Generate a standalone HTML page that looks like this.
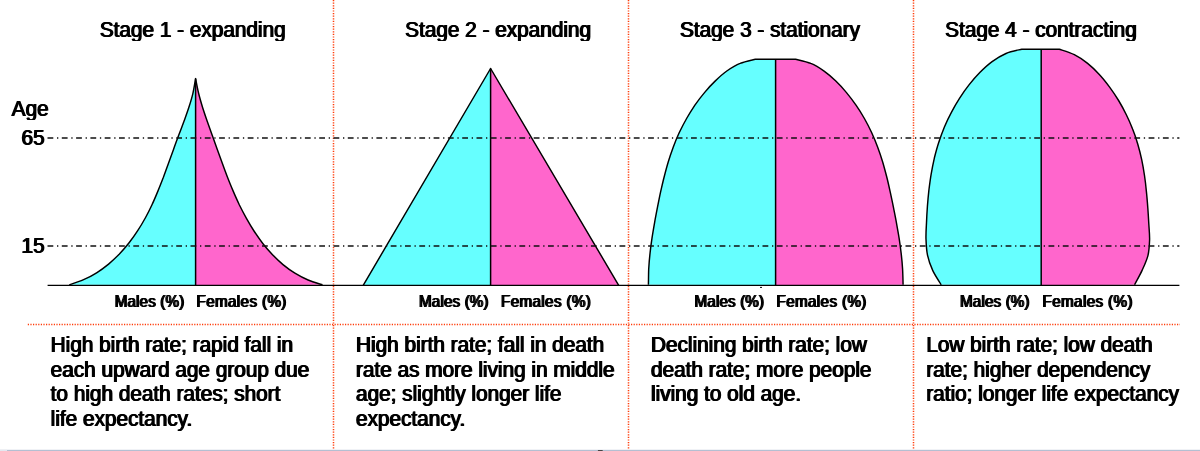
<!DOCTYPE html>
<html lang="en">
<head>
<meta charset="utf-8">
<title>Population pyramids - stages of demographic transition</title>
<style>
html,body{margin:0;padding:0;background:#fff;}
body{width:1200px;height:451px;overflow:hidden;position:relative;font-family:"Liberation Sans",Arial,Helvetica,sans-serif;color:#000;}
svg{display:block;position:absolute;left:0;top:0;}
div{position:absolute;white-space:nowrap;margin:0;padding:0;transform:scaleY(1.08);transform-origin:0 0;text-shadow:-.65px 0 0 #000,.65px 0 0 #000;}
.t{font-size:20.78px;line-height:24px;}
.b{font-size:20.78px;line-height:22.685px;}
.s{font-size:15.2px;line-height:18px;transform:scaleY(1.1);letter-spacing:.15px;text-shadow:-.75px 0 0 #000,.75px 0 0 #000;}
.s.w{letter-spacing:.38px;}
.m{fill:#66ffff;}
.f{fill:#ff66cc;}
.o{fill:none;stroke:#000;stroke-width:1.45;stroke-linejoin:round;}
.c{stroke:#000;stroke-width:1.5;}
.bl{stroke:#000;stroke-width:1.35;}
.d{stroke:#111;fill:none;}
.d1{stroke-width:1.4;stroke-dasharray:5.8 3.7 1.3 3.5;}
.d2{stroke-width:1.65;stroke-dasharray:5.8 3.7 1.3 3.5;}
.r{stroke:#ff3c0a;stroke-width:1.5;stroke-dasharray:1.2 1.4;fill:none;}
</style>
</head>
<body>
<svg width="1200" height="451" viewBox="0 0 1200 451">
<rect width="1200" height="451" fill="#fff"/>
<rect x="0" y="449.8" width="1200" height="1.2" fill="#b4bfd2"/><rect x="0" y="449.8" width="7" height="1.2" fill="#e4e8f0"/><rect x="597.8" y="450" width="5" height="1" rx=".5" fill="#444"/>
<g class="r">
<line x1="333.5" y1="0" x2="333.5" y2="449"/>
<line x1="628.5" y1="0" x2="628.5" y2="449"/>
<line x1="913.5" y1="0" x2="913.5" y2="449"/>
<line x1="27.8" y1="324.6" x2="1180" y2="324.6"/>
</g>
<path class="m" d="M69.3,284.8 C71.7,284.0 79.0,281.7 83.6,279.7 C88.1,277.7 92.5,275.4 96.6,272.8 C100.8,270.2 104.8,267.2 108.6,264.1 C112.3,261.0 115.9,257.6 119.4,254.1 C122.8,250.5 126.0,246.7 129.1,242.8 C132.1,239.0 135.0,234.9 137.7,230.7 C140.4,226.6 142.9,222.3 145.3,218.0 C147.7,213.6 149.9,209.2 152.0,204.7 C154.1,200.3 156.0,195.7 157.9,191.1 C159.8,186.6 161.6,181.9 163.4,177.3 C165.1,172.6 166.8,168.0 168.5,163.3 C170.2,158.6 171.9,153.9 173.6,149.3 C175.2,144.6 177.0,139.9 178.7,135.3 C180.4,130.7 182.2,126.1 183.9,121.5 C185.6,116.8 187.3,112.2 188.8,107.5 C190.3,102.9 191.8,98.2 192.9,93.3 C194.0,88.5 195.1,81.1 195.6,78.6 L195.6,78.6 L195.6,285.3 Z"/>
<path class="f" d="M322.5,284.8 C320.1,284.0 312.7,282.0 308.1,280.0 C303.5,278.1 299.1,275.8 294.9,273.2 C290.7,270.6 286.8,267.7 283.0,264.6 C279.2,261.4 275.7,258.0 272.3,254.5 C268.9,250.9 265.6,247.1 262.6,243.2 C259.5,239.3 256.7,235.1 254.0,231.0 C251.2,226.8 248.7,222.5 246.3,218.2 C243.9,213.8 241.6,209.4 239.4,205.0 C237.3,200.5 235.2,196.0 233.3,191.4 C231.3,186.8 229.5,182.2 227.6,177.6 C225.8,173.0 224.1,168.3 222.4,163.6 C220.7,159.0 219.0,154.3 217.3,149.6 C215.6,144.9 214.0,140.2 212.3,135.6 C210.6,130.9 208.9,126.2 207.3,121.6 C205.7,116.9 204.1,112.2 202.6,107.5 C201.2,102.8 199.8,98.1 198.6,93.2 C197.4,88.4 196.1,81.0 195.6,78.6 L195.6,78.6 L195.6,285.3 Z"/>
<path class="o" d="M69.3,284.8 C71.7,284.0 79.0,281.7 83.6,279.7 C88.1,277.7 92.5,275.4 96.6,272.8 C100.8,270.2 104.8,267.2 108.6,264.1 C112.3,261.0 115.9,257.6 119.4,254.1 C122.8,250.5 126.0,246.7 129.1,242.8 C132.1,239.0 135.0,234.9 137.7,230.7 C140.4,226.6 142.9,222.3 145.3,218.0 C147.7,213.6 149.9,209.2 152.0,204.7 C154.1,200.3 156.0,195.7 157.9,191.1 C159.8,186.6 161.6,181.9 163.4,177.3 C165.1,172.6 166.8,168.0 168.5,163.3 C170.2,158.6 171.9,153.9 173.6,149.3 C175.2,144.6 177.0,139.9 178.7,135.3 C180.4,130.7 182.2,126.1 183.9,121.5 C185.6,116.8 187.3,112.2 188.8,107.5 C190.3,102.9 191.8,98.2 192.9,93.3 C194.0,88.5 195.1,81.1 195.6,78.6 L195.6,78.6 L195.6,78.6 C196.1,81.0 197.4,88.4 198.6,93.2 C199.8,98.1 201.2,102.8 202.6,107.5 C204.1,112.2 205.7,116.9 207.3,121.6 C208.9,126.2 210.6,130.9 212.3,135.6 C214.0,140.2 215.6,144.9 217.3,149.6 C219.0,154.3 220.7,159.0 222.4,163.6 C224.1,168.3 225.8,173.0 227.6,177.6 C229.5,182.2 231.3,186.8 233.3,191.4 C235.2,196.0 237.3,200.5 239.4,205.0 C241.6,209.4 243.9,213.8 246.3,218.2 C248.7,222.5 251.2,226.8 254.0,231.0 C256.7,235.1 259.5,239.3 262.6,243.2 C265.6,247.1 268.9,250.9 272.3,254.5 C275.7,258.0 279.2,261.4 283.0,264.6 C286.8,267.7 290.7,270.6 294.9,273.2 C299.1,275.8 303.5,278.1 308.1,280.0 C312.7,282.0 320.1,284.0 322.5,284.8"/>
<line class="c" x1="195.6" y1="78.6" x2="195.6" y2="285.3"/>
<path class="m" d="M363.2,285.3 L490.6,68.5 L490.6,285.3 Z"/>
<path class="f" d="M618.7,285.3 L490.6,68.5 L490.6,285.3 Z"/>
<path class="o" d="M363.2,285.3 L490.6,68.5 L618.7,285.3"/>
<line class="c" x1="490.6" y1="68.5" x2="490.6" y2="285.3"/>
<path class="m" d="M648.4,284.8 C648.5,282.2 648.5,274.4 648.7,269.2 C649.0,264.0 649.4,258.8 650.0,253.6 C650.5,248.4 651.2,243.2 652.0,238.1 C652.8,232.9 653.7,227.7 654.6,222.6 C655.5,217.4 656.5,212.3 657.5,207.2 C658.5,202.0 659.5,196.9 660.6,191.8 C661.8,186.7 662.9,181.7 664.2,176.7 C665.5,171.6 666.8,166.6 668.3,161.7 C669.8,156.7 671.5,151.8 673.3,146.9 C675.1,142.1 677.1,137.2 679.3,132.5 C681.6,127.8 684.0,123.1 686.6,118.5 C689.2,113.9 692.0,109.5 694.9,105.1 C697.9,100.8 701.1,96.6 704.5,92.6 C707.8,88.6 711.3,84.7 715.1,81.1 C718.8,77.5 722.6,74.0 726.8,71.0 C731.0,68.1 735.3,65.3 740.1,63.4 C744.8,61.4 752.8,59.9 755.3,59.2 L775.6,59.2 L775.6,285.3 Z"/>
<path class="f" d="M903.1,284.8 C903.0,282.2 902.9,274.4 902.6,269.2 C902.3,264.0 901.8,258.8 901.2,253.6 C900.6,248.4 899.9,243.3 899.1,238.1 C898.3,232.9 897.3,227.8 896.4,222.6 C895.5,217.5 894.4,212.3 893.4,207.2 C892.4,202.1 891.3,197.0 890.2,191.9 C889.1,186.8 888.0,181.7 886.7,176.7 C885.4,171.7 884.1,166.7 882.6,161.7 C881.1,156.7 879.4,151.8 877.6,147.0 C875.8,142.1 873.8,137.3 871.6,132.5 C869.4,127.8 867.0,123.1 864.4,118.5 C861.8,114.0 859.0,109.5 856.0,105.2 C853.0,100.8 849.8,96.6 846.5,92.6 C843.1,88.6 839.6,84.7 835.8,81.1 C832.1,77.5 828.3,74.0 824.1,71.1 C819.9,68.1 815.6,65.3 810.8,63.4 C806.1,61.4 798.1,59.9 795.6,59.2 L775.6,59.2 L775.6,285.3 Z"/>
<path class="o" d="M648.4,284.8 C648.5,282.2 648.5,274.4 648.7,269.2 C649.0,264.0 649.4,258.8 650.0,253.6 C650.5,248.4 651.2,243.2 652.0,238.1 C652.8,232.9 653.7,227.7 654.6,222.6 C655.5,217.4 656.5,212.3 657.5,207.2 C658.5,202.0 659.5,196.9 660.6,191.8 C661.8,186.7 662.9,181.7 664.2,176.7 C665.5,171.6 666.8,166.6 668.3,161.7 C669.8,156.7 671.5,151.8 673.3,146.9 C675.1,142.1 677.1,137.2 679.3,132.5 C681.6,127.8 684.0,123.1 686.6,118.5 C689.2,113.9 692.0,109.5 694.9,105.1 C697.9,100.8 701.1,96.6 704.5,92.6 C707.8,88.6 711.3,84.7 715.1,81.1 C718.8,77.5 722.6,74.0 726.8,71.0 C731.0,68.1 735.3,65.3 740.1,63.4 C744.8,61.4 752.8,59.9 755.3,59.2 L775.6,59.2 L795.6,59.2 C798.1,59.9 806.1,61.4 810.8,63.4 C815.6,65.3 819.9,68.1 824.1,71.1 C828.3,74.0 832.1,77.5 835.8,81.1 C839.6,84.7 843.1,88.6 846.5,92.6 C849.8,96.6 853.0,100.8 856.0,105.2 C859.0,109.5 861.8,114.0 864.4,118.5 C867.0,123.1 869.4,127.8 871.6,132.5 C873.8,137.3 875.8,142.1 877.6,147.0 C879.4,151.8 881.1,156.7 882.6,161.7 C884.1,166.7 885.4,171.7 886.7,176.7 C888.0,181.7 889.1,186.8 890.2,191.9 C891.3,197.0 892.4,202.1 893.4,207.2 C894.4,212.3 895.5,217.5 896.4,222.6 C897.3,227.8 898.3,232.9 899.1,238.1 C899.9,243.3 900.6,248.4 901.2,253.6 C901.8,258.8 902.3,264.0 902.6,269.2 C902.9,274.4 903.0,282.2 903.1,284.8"/>
<line class="c" x1="775.6" y1="59.2" x2="775.6" y2="285.3"/>
<path class="m" d="M941.2,284.8 C939.8,282.4 935.1,275.5 932.8,270.6 C930.5,265.6 928.6,260.4 927.5,255.1 C926.4,249.9 926.2,244.5 926.0,239.2 C925.8,233.8 926.2,228.3 926.5,222.9 C926.7,217.5 927.0,212.0 927.4,206.5 C927.8,201.1 928.3,195.6 928.9,190.1 C929.6,184.7 930.3,179.2 931.2,173.9 C932.1,168.5 933.2,163.1 934.4,157.8 C935.7,152.6 937.1,147.3 938.8,142.2 C940.5,137.0 942.4,132.0 944.4,127.0 C946.5,122.0 948.8,117.1 951.4,112.3 C953.9,107.5 956.6,102.8 959.5,98.3 C962.5,93.7 965.6,89.2 969.0,84.9 C972.4,80.6 976.0,76.3 979.8,72.5 C983.7,68.6 987.7,64.8 992.1,61.6 C996.5,58.5 1001.1,55.6 1006.0,53.5 C1011.0,51.4 1019.2,49.9 1021.8,49.2 L1041.2,49.2 L1041.2,285.3 Z"/>
<path class="f" d="M1134.6,284.8 C1135.8,282.4 1139.8,275.3 1142.1,270.4 C1144.3,265.5 1146.7,260.4 1148.0,255.3 C1149.2,250.2 1149.4,245.0 1149.6,239.7 C1149.7,234.4 1149.1,229.1 1148.8,223.8 C1148.5,218.4 1148.2,213.1 1147.8,207.7 C1147.4,202.3 1147.0,196.9 1146.4,191.6 C1145.9,186.2 1145.3,180.8 1144.5,175.5 C1143.7,170.2 1142.8,164.9 1141.7,159.7 C1140.6,154.5 1139.3,149.3 1137.8,144.2 C1136.3,139.1 1134.6,134.0 1132.6,129.1 C1130.7,124.1 1128.6,119.3 1126.2,114.5 C1123.9,109.7 1121.3,105.0 1118.6,100.5 C1115.8,95.9 1112.8,91.4 1109.6,87.1 C1106.4,82.8 1103.0,78.4 1099.3,74.5 C1095.7,70.6 1091.8,66.7 1087.6,63.4 C1083.5,60.1 1079.1,57.1 1074.3,54.7 C1069.6,52.3 1061.8,50.1 1059.3,49.2 L1041.2,49.2 L1041.2,285.3 Z"/>
<path class="o" d="M941.2,284.8 C939.8,282.4 935.1,275.5 932.8,270.6 C930.5,265.6 928.6,260.4 927.5,255.1 C926.4,249.9 926.2,244.5 926.0,239.2 C925.8,233.8 926.2,228.3 926.5,222.9 C926.7,217.5 927.0,212.0 927.4,206.5 C927.8,201.1 928.3,195.6 928.9,190.1 C929.6,184.7 930.3,179.2 931.2,173.9 C932.1,168.5 933.2,163.1 934.4,157.8 C935.7,152.6 937.1,147.3 938.8,142.2 C940.5,137.0 942.4,132.0 944.4,127.0 C946.5,122.0 948.8,117.1 951.4,112.3 C953.9,107.5 956.6,102.8 959.5,98.3 C962.5,93.7 965.6,89.2 969.0,84.9 C972.4,80.6 976.0,76.3 979.8,72.5 C983.7,68.6 987.7,64.8 992.1,61.6 C996.5,58.5 1001.1,55.6 1006.0,53.5 C1011.0,51.4 1019.2,49.9 1021.8,49.2 L1041.2,49.2 L1059.3,49.2 C1061.8,50.1 1069.6,52.3 1074.3,54.7 C1079.1,57.1 1083.5,60.1 1087.6,63.4 C1091.8,66.7 1095.7,70.6 1099.3,74.5 C1103.0,78.4 1106.4,82.8 1109.6,87.1 C1112.8,91.4 1115.8,95.9 1118.6,100.5 C1121.3,105.0 1123.9,109.7 1126.2,114.5 C1128.6,119.3 1130.7,124.1 1132.6,129.1 C1134.6,134.0 1136.3,139.1 1137.8,144.2 C1139.3,149.3 1140.6,154.5 1141.7,159.7 C1142.8,164.9 1143.7,170.2 1144.5,175.5 C1145.3,180.8 1145.9,186.2 1146.4,191.6 C1147.0,196.9 1147.4,202.3 1147.8,207.7 C1148.2,213.1 1148.5,218.4 1148.8,223.8 C1149.1,229.1 1149.7,234.4 1149.6,239.7 C1149.4,245.0 1149.2,250.2 1148.0,255.3 C1146.7,260.4 1144.3,265.5 1142.1,270.4 C1139.8,275.3 1135.8,282.4 1134.6,284.8"/>
<line class="c" x1="1041.2" y1="49.2" x2="1041.2" y2="285.3"/>
<line class="d d1" x1="47.5" y1="138" x2="1179.4" y2="138"/>
<line class="d d2" x1="47.5" y1="246" x2="1179.4" y2="246"/>
<line class="bl" x1="47.6" y1="285.3" x2="1179.4" y2="285.3"/>
<ellipse cx="761" cy="287.4" rx="1" ry=".7" fill="#000"/>
</svg>
<div class="t" style="left:99.8px;top:15.76px">Stage 1 - expanding</div>
<div class="t" style="left:405.2px;top:15.76px">Stage 2 - expanding</div>
<div class="t" style="left:680.0px;top:15.76px">Stage 3 - stationary</div>
<div class="t" style="left:945.2px;top:15.76px">Stage 4 - contracting</div>
<div class="t" style="left:11.7px;top:95.26px">Age</div>
<div class="t" style="left:21.5px;top:123.66px">65</div>
<div class="t" style="left:21.5px;top:231.56px">15</div>
<div class="s" style="left:114.7px;top:291.51px">Males (%)</div>
<div class="s w" style="left:196.5px;top:291.51px">Females (%)</div>
<div class="s" style="left:419.0px;top:291.51px">Males (%)</div>
<div class="s w" style="left:501.0px;top:291.51px">Females (%)</div>
<div class="s" style="left:694.5px;top:291.51px">Males (%)</div>
<div class="s w" style="left:776.5px;top:291.51px">Females (%)</div>
<div class="s" style="left:960.0px;top:291.51px">Males (%)</div>
<div class="s w" style="left:1042.6px;top:291.51px">Females (%)</div>
<div class="b" style="left:50.7px;top:332.57px">High birth rate; rapid fall in<br>each upward age group due<br>to high death rates; short<br>life expectancy.</div>
<div class="b" style="left:356.0px;top:332.57px">High birth rate; fall in death<br>rate as more living in middle<br>age; slightly longer life<br>expectancy.</div>
<div class="b" style="left:651.0px;top:332.57px">Declining birth rate; low<br>death rate; more people<br>living to old age.</div>
<div class="b" style="left:926.3px;top:332.57px">Low birth rate; low death<br>rate; higher dependency<br>ratio; longer life expectancy</div>
</body>
</html>
